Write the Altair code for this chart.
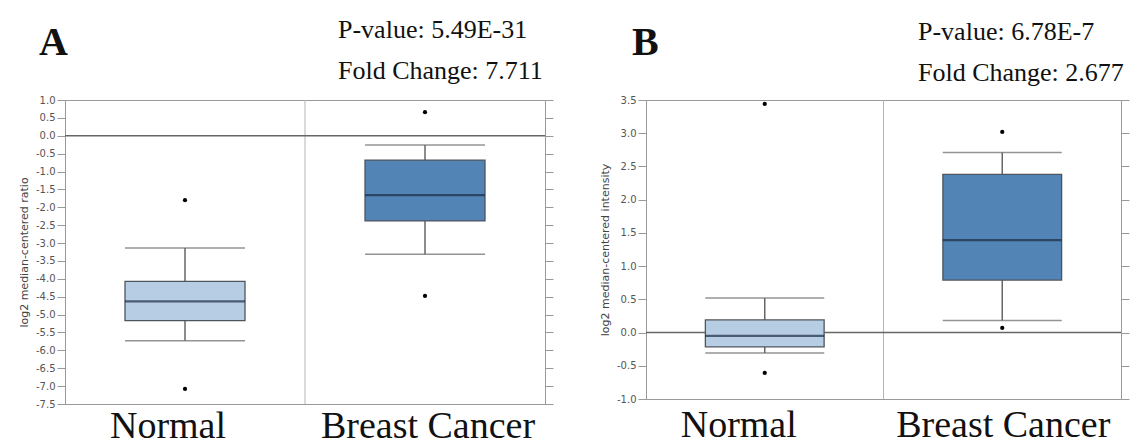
import altair as alt
import pandas as pd

groups = ["Normal", "Breast Cancer"]

# Panel A: log2 median-centered ratio
a_lower = [-5.73, -3.31]
a_q1 = [-5.17, -2.38]
a_median = [-4.63, -1.66]
a_q3 = [-4.07, -0.68]
a_upper = [-3.14, -0.26]
a_outlier_group = ["Normal", "Normal", "Breast Cancer", "Breast Cancer"]
a_outlier_value = [-1.80, -7.08, 0.66, -4.48]
a_ticks = [-7.5, -7.0, -6.5, -6.0, -5.5, -5.0, -4.5, -4.0, -3.5, -3.0, -2.5,
           -2.0, -1.5, -1.0, -0.5, 0.0, 0.5, 1.0]
a_texts = ["A", "P-value: 5.49E-31", "Fold Change: 7.711"]
a_ytitle = "log2 median-centered ratio"

# Panel B: log2 median-centered intensity
b_lower = [-0.306, 0.18]
b_q1 = [-0.215, 0.79]
b_median = [-0.05, 1.39]
b_q3 = [0.19, 2.38]
b_upper = [0.52, 2.71]
b_outlier_group = ["Normal", "Normal", "Breast Cancer", "Breast Cancer"]
b_outlier_value = [3.44, -0.607, 3.02, 0.07]
b_ticks = [-1.0, -0.5, 0.0, 0.5, 1.0, 1.5, 2.0, 2.5, 3.0, 3.5]
b_texts = ["B", "P-value: 6.78E-7", "Fold Change: 2.677"]
b_ytitle = "log2 median-centered intensity"

reference_line = [0.0]

LIGHT = "#b7cde3"
DARK = "#5384b6"


def panel(lower, q1, med, q3, upper, og, ov, ticks, ytitle, texts,
          w, h, cap, lab_off, lab_pad, text_pos):
    box = pd.DataFrame({"group": groups, "lower": lower, "q1": q1,
                        "median": med, "q3": q3, "upper": upper})
    out = pd.DataFrame({"group": og, "value": ov})
    zero = pd.DataFrame({"v": reference_line})
    divider = pd.DataFrame({"group": [groups[1]]})

    xaxis = alt.Axis(title=None, domain=False, ticks=False, grid=False,
                     labelAngle=0, labelFont="Liberation Serif", labelLimit=600,
                     labelFontSize=38, labelColor="#111", labelPadding=lab_pad,
                     labelOffset={"condition": {"test": f"datum.value === '{groups[0]}'",
                                                "value": lab_off[0]},
                                  "value": lab_off[1]})
    xscale = alt.Scale(domain=groups, paddingInner=0, paddingOuter=0)

    def X(**kw):
        return alt.X("group:N", scale=xscale, axis=xaxis, sort=groups, **kw)

    yscale = alt.Scale(domain=[ticks[0], ticks[-1]], nice=False, zero=False)

    def Y(field, axis=None):
        return alt.Y(f"{field}:Q", scale=yscale, axis=axis)

    left_axis = alt.Axis(values=ticks, format=".1f", title=ytitle,
                         labelPadding=2, titlePadding=6,
                         labelExpr="replace(datum.label, '\u2212', '-')")
    right_axis = alt.Axis(orient="right", values=ticks, labels=False,
                          title=None, domain=False)

    base_box = alt.Chart(box)
    whisk_lo = base_box.mark_rule(color="#666", strokeWidth=1.5).encode(
        x=X(), y=Y("lower"), y2="q1:Q")
    whisk_hi = base_box.mark_rule(color="#666", strokeWidth=1.5).encode(
        x=X(), y=Y("q3"), y2="upper:Q")
    cap_lo = base_box.mark_tick(color="#666", thickness=1.5, size=cap,
                                orient="horizontal").encode(x=X(), y=Y("lower"))
    cap_hi = base_box.mark_tick(color="#666", thickness=1.5, size=cap,
                                orient="horizontal").encode(x=X(), y=Y("upper"))
    bars = base_box.mark_bar(width=alt.RelativeBandSize(0.5), stroke="#4f555c",
                             strokeWidth=1.3, opacity=1).encode(
        x=X(), y=Y("q1", left_axis), y2="q3:Q",
        color=alt.Color("group:N", scale=alt.Scale(domain=groups, range=[LIGHT, DARK]),
                        legend=None))
    med_tick = base_box.mark_tick(color="#1c2b42", thickness=2.2, size=cap,
                                  orient="horizontal").encode(x=X(), y=Y("median"))
    pts = alt.Chart(out).mark_circle(color="black", size=18, opacity=1).encode(
        x=X(), y=Y("value"))
    zero_rule = alt.Chart(zero).mark_rule(color="#666", strokeWidth=1.5).encode(
        y=Y("v", right_axis))
    div_rule = alt.Chart(divider).mark_rule(color="#b5b5b5", strokeWidth=1).encode(
        x=X(bandPosition=0))

    txt = []
    styles = [dict(fontSize=40, fontWeight="bold"),
              dict(fontSize=26, fontWeight="normal"),
              dict(fontSize=26, fontWeight="normal")]
    for t, (px, py), st in zip(texts, text_pos, styles):
        txt.append(alt.Chart(zero).mark_text(align="left", baseline="alphabetic",
                                             font="Liberation Serif", color="#111",
                                             **st).encode(
            x=alt.value(px), y=alt.value(py), text=alt.value(t)))

    layer = alt.layer(div_rule, zero_rule, whisk_lo, whisk_hi, cap_lo, cap_hi,
                      bars, med_tick, pts, *txt).resolve_axis(y="independent")
    return layer.properties(width=w, height=h)


pa = panel(a_lower, a_q1, a_median, a_q3, a_upper, a_outlier_group, a_outlier_value,
           a_ticks, a_ytitle, a_texts, 480, 304, 120, (-17, 3), 3,
           [(-26, -45), (273, -62), (273, -21)])
pb = panel(b_lower, b_q1, b_median, b_q3, b_upper, b_outlier_group, b_outlier_value,
           b_ticks, b_ytitle, b_texts, 475, 299, 119, (-26, 1), 7,
           [(-14, -45), (272, -60), (272, -19)])

chart = alt.hconcat(pa, pb, spacing=44).properties(
    padding={"left": 9, "top": 8, "right": 0, "bottom": 0}
).configure_view(stroke="#999", strokeWidth=1).configure_axis(
    domainColor="#999", tickColor="#999", labelColor="#555",
    labelFont="DejaVu Sans", labelFontSize=10, titleFont="DejaVu Sans",
    titleFontSize=11, titleFontWeight="normal", titleColor="#444",
    tickSize=8, grid=False
)

chart.save("out.html", embed_options={"renderer": "svg", "actions": False})
